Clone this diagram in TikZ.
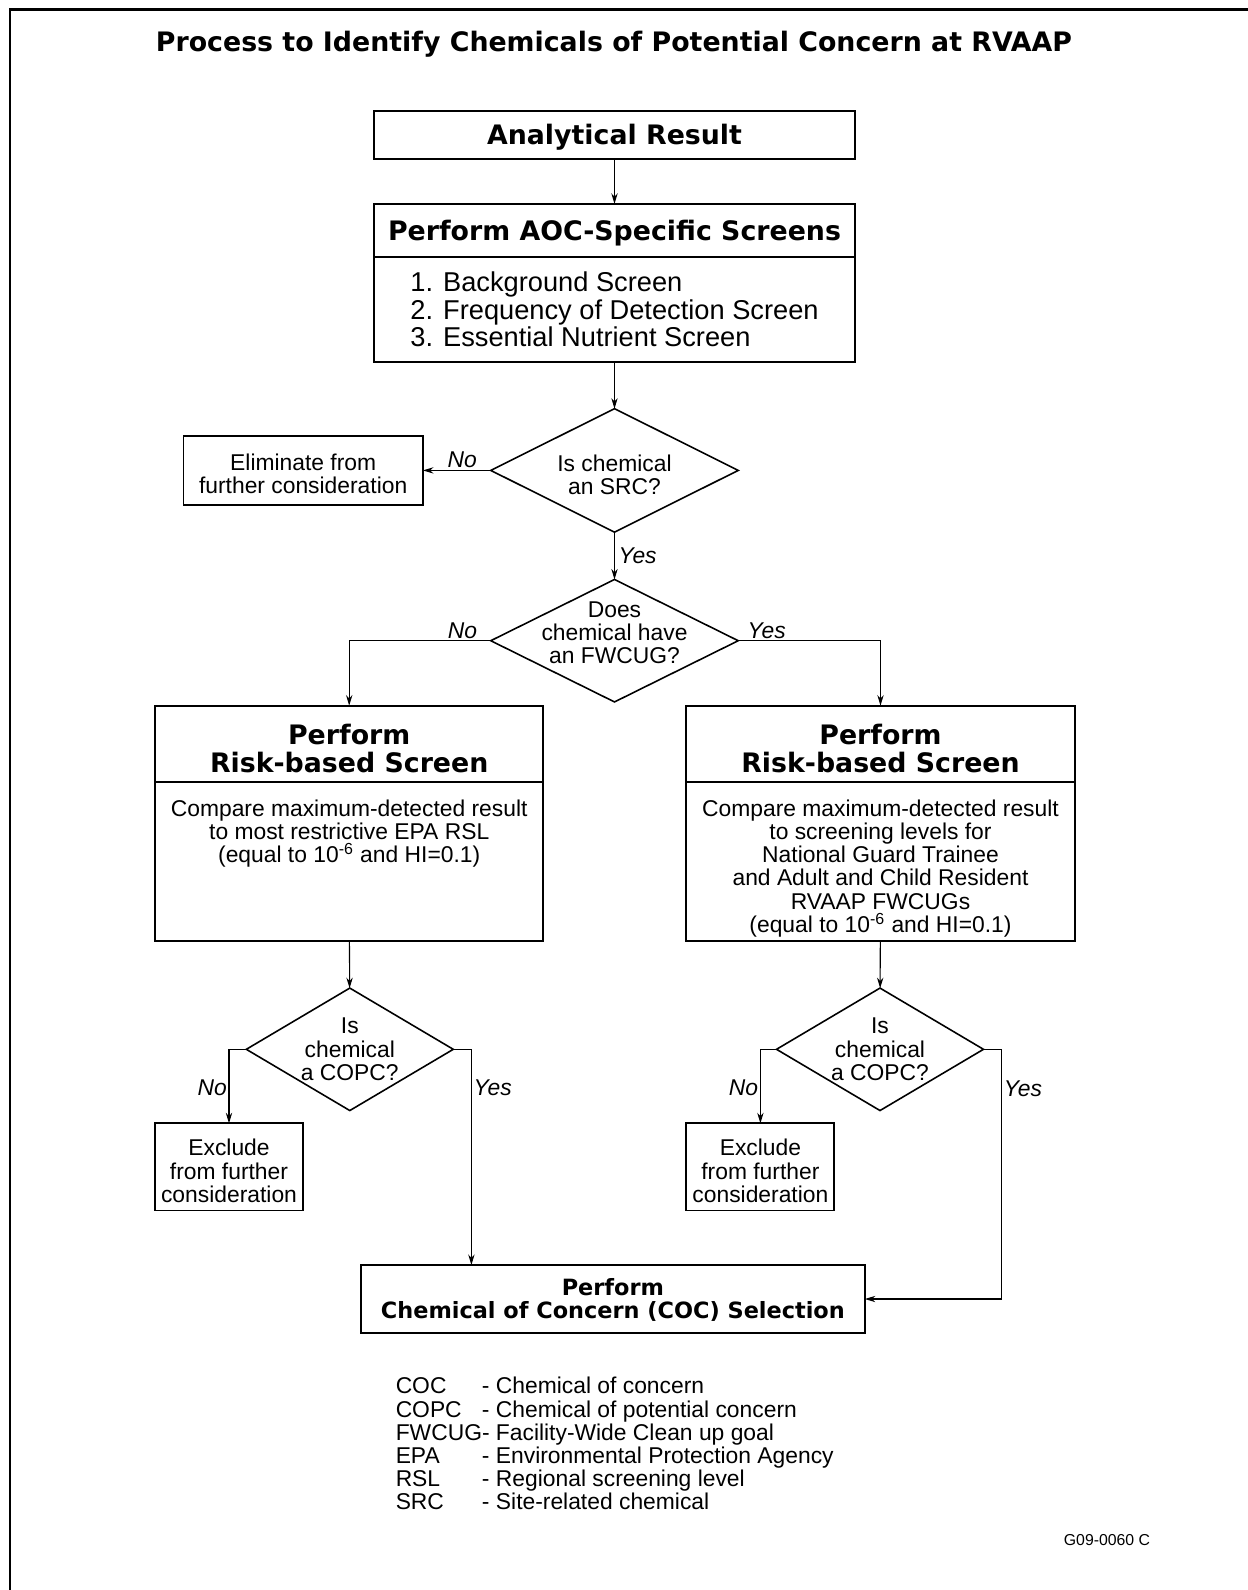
\documentclass[tikz,border=0pt]{standalone}
\usepackage{calc}
\usepackage{fontspec}
\setmainfont{Liberation Sans}
\newfontfamily\blacksf{DejaVu Sans}
\usetikzlibrary{shapes.geometric,positioning,arrows.meta}

\newcommand{\bodysize}{\fontsize{13}{13.2}\selectfont}
\newcommand{\listsize}{\fontsize{15.5}{15.8}\selectfont}
\newcommand{\headsize}{\blacksf\bfseries\fontsize{15.25}{15.5}\selectfont}
\newcommand{\cocsize}{\blacksf\bfseries\fontsize{12.75}{13.2}\selectfont}
\newcommand{\abbr}[1]{\makebox[\widthof{FWCUG}][l]{#1}}
% text block hung from the top of a box of fixed height
\newcommand{\toptext}[3]{\parbox[c][#1][t]{#2}{\centering #3}}

\tikzset{
  box/.style={draw,line width=1.1pt,inner sep=0pt,outer sep=0pt,align=center,font=\bodysize},
  headbox/.style={box,font=\headsize},
  decision/.style={diamond,draw,line width=0.9pt,inner sep=0pt,outer sep=0pt},
  dtext/.style={align=center,font=\bodysize,inner sep=0pt},
  flow/.style={->,>={Stealth[length=6pt,width=3.6pt]},line width=0.6pt},
  yn/.style={font=\bodysize\itshape,inner sep=1pt}
}

\begin{document}
\begin{tikzpicture}[x=0.02cm,y=-0.02cm]
\useasboundingbox (0,0) rectangle (1248,1590);
\draw [line width=1.7pt] (10,1590) -- (10,9.5) -- (1248,9.5);
\node (title) at (614,51.5) [anchor=base,font=\headsize] {Process to Identify Chemicals of Potential Concern at RVAAP};

\node (ana)     at (614.5,134.8) [headbox,text depth=0pt,minimum width=9.62cm,minimum height=0.97cm] {Analytical Result};
\node (aochead) at (614.5,230.2) [headbox,text depth=0pt,minimum width=9.62cm,minimum height=1.054cm] {Perform AOC-Specific Screens};
\node (aocbody) [box,below=0pt of aochead,minimum width=9.62cm,minimum height=2.11cm,align=left,font=\listsize]
    {1. Background Screen\\2. Frequency of Detection Screen\\3. Essential Nutrient Screen};

\node (src)  at (614.5,470.4) [decision,minimum width=4.95cm,minimum height=2.47cm,
    label={[dtext,yshift=-2.3pt]center:Is chemical\\an SRC?}] {};
\node (elim) at (303.2,470.4) [box,minimum width=4.79cm,minimum height=1.38cm]
    {\toptext{0.652cm}{4.6cm}{Eliminate from\\further consideration}};
\node (fwcug) at (614.5,640.7) [decision,minimum width=4.95cm,minimum height=2.45cm,
    label={[dtext,yshift=4.6pt]center:Does\\chemical have\\an FWCUG?}] {};

\node (rskLh) at (349.2,743.6) [headbox,minimum width=7.77cm,minimum height=1.52cm]
    {\toptext{0.768cm}{7.6cm}{Perform\\Risk-based Screen}};
\node (rskLb) [box,below=0pt of rskLh,minimum width=7.77cm,minimum height=3.18cm]
    {\toptext{2.456cm}{7.6cm}{Compare maximum-detected result\\to most restrictive EPA RSL\\(equal to 10\textsuperscript{-6} and HI=0.1)}};
\node (rskRh) at (880.5,743.6) [headbox,minimum width=7.77cm,minimum height=1.52cm]
    {\toptext{0.768cm}{7.6cm}{Perform\\Risk-based Screen}};
\node (rskRb) [box,below=0pt of rskRh,minimum width=7.77cm,minimum height=3.18cm]
    {\toptext{2.456cm}{7.6cm}{Compare maximum-detected result\\to screening levels for\\National Guard Trainee\\and Adult and Child Resident\\RVAAP FWCUGs\\(equal to 10\textsuperscript{-6} and HI=0.1)}};

\node (copcL) at (349.8,1049.3) [decision,minimum width=4.14cm,minimum height=2.45cm,
    label={[dtext]center:Is\\chemical\\a COPC?}] {};
\node (copcR) at (880,1049.3) [decision,minimum width=4.14cm,minimum height=2.45cm,
    label={[dtext]center:Is\\chemical\\a COPC?}] {};
\node (exclL) at (229,1166.9) [box,minimum width=2.96cm,minimum height=1.744cm]
    {\toptext{1.1cm}{2.9cm}{Exclude\\from further\\consideration}};
\node (exclR) at (760.4,1166.9) [box,minimum width=2.96cm,minimum height=1.744cm]
    {\toptext{1.1cm}{2.9cm}{Exclude\\from further\\consideration}};
\node (coc)   at (612.9,1299) [box,font=\cocsize,minimum width=10.08cm,minimum height=1.36cm]
    {\toptext{0.816cm}{10cm}{Perform\\Chemical of Concern (COC) Selection}};

\coordinate (turnL) at (471.4,1049.3);
\coordinate (turnR) at (1001.6,1049.3);

\draw [flow] (ana) -- (aochead);
\draw [flow] (aocbody) -- (src);
\draw [flow] (src.west) -- (elim.east) node [pos=0.42,above,yn] {No};
\draw [flow] (src.south) -- (fwcug.north) node [midway,right,yn,xshift=1pt] {Yes};
\draw [flow] (fwcug.west) -| (rskLh.north) node [pos=0.1,above,yn] {No};
\draw [flow] (fwcug.east) -| (rskRh.north) node [pos=0.1,above,yn] {Yes};
\draw [flow] (rskLb) -- (copcL);
\draw [flow] (rskRb) -- (copcR);
\draw [flow] (copcL.west) -| (exclL.north) node [pos=0.76,left,yn] {No};
\draw [flow] (copcR.west) -| (exclR.north) node [pos=0.76,left,yn] {No};
\draw [flow] (copcL.east) -- (turnL) -- (turnL |- coc.north) node [pos=0.18,right,yn] {Yes};
\draw [flow] (copcR.east) -- (turnR) |- (coc.east) node [pos=0.078,right,yn] {Yes};

\node (legend) at (395.4,1377) [anchor=north west,inner sep=0pt,align=left,font=\bodysize]
    {\abbr{COC}- Chemical of concern\\\abbr{COPC}- Chemical of potential concern\\\abbr{FWCUG}- Facility-Wide Clean up goal\\
     \abbr{EPA}- Environmental Protection Agency\\\abbr{RSL}- Regional screening level\\\abbr{SRC}- Site-related chemical};
\node (figid) at (1107,1540) [font=\fontsize{9}{10}\selectfont] {G09-0060 C};
\end{tikzpicture}
\end{document}
